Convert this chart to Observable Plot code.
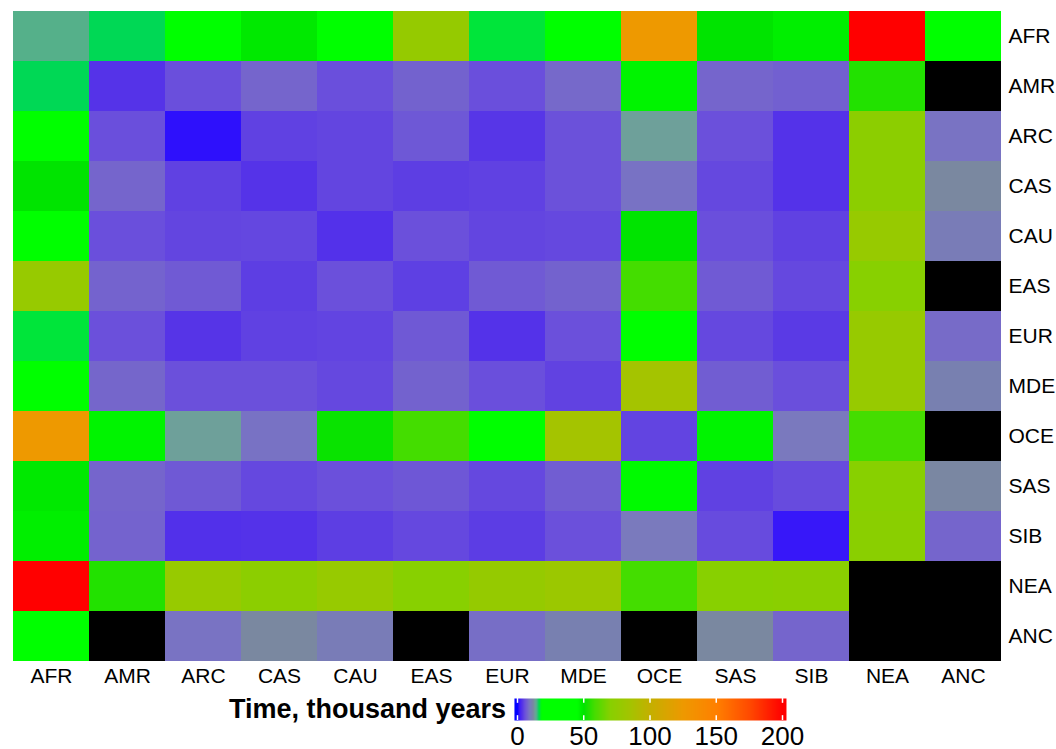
<!DOCTYPE html>
<html>
<head>
<meta charset="utf-8">
<script src="https://cdn.jsdelivr.net/npm/d3@7"></script>
<script src="https://cdn.jsdelivr.net/npm/@observablehq/plot@0.6"></script>
<style>
  html, body { margin: 0; padding: 0; background: #fff; }
  #wrap { position: relative; width: 1056px; height: 749px; font-family: "Liberation Sans", Arial, Helvetica, sans-serif; }
  #legendTitle { position: absolute; left: 0; top: 696px; width: 506px; text-align: right; font-weight: bold; font-size: 27px; line-height: 26px; color: #000; }
  #legend { position: absolute; left: 0; top: 690px; }
  svg { overflow: visible; }
</style>
</head>
<body>
<div id="wrap">
  <div id="chart"></div>
  <div id="legendTitle">Time, thousand years</div>
  <div id="legend"></div>
</div>
<script>
// Populations (both axes, same order)
const populations = ["AFR","AMR","ARC","CAS","CAU","EAS","EUR","MDE","OCE","SAS","SIB","NEA","ANC"];

// Divergence times (thousand years), one array per row; null = no value (black)
const rowAFR = [14.5, 16, 30, 49, 32, 77, 16.8, 28, 125, 50, 48, 200, 35];
const rowAMR = [16, 3.5, 5.5, 7.5, 5.5, 7.2, 5.5, 7.8, 47, 7.5, 7, 54, null];
const rowARC = [30, 5.5, 1, 4.5, 4.8, 6.3, 3.7, 5.7, 13, 5.6, 3.4, 72, 8.6];
const rowCAS = [50, 7.5, 4.5, 3.5, 4.8, 4.3, 4.5, 5.7, 8.5, 5, 3.4, 72, 12];
const rowCAU = [28, 5.5, 4.8, 4.9, 3.3, 5.6, 4.8, 5, 50, 5.5, 4.5, 78, 9.8];
const rowEAS = [78, 7.3, 6.5, 4.3, 5.6, 4.4, 6.5, 7.2, 58, 6.5, 5, 70, null];
const rowEUR = [16.8, 5.6, 3.6, 4.5, 4.7, 6.4, 3.4, 5.6, 30, 5, 4, 78, 8];
const rowMDE = [27, 7.6, 5.6, 5.6, 5, 7.2, 5.5, 4.6, 85, 6.8, 5.5, 78, 10.5];
const rowOCE = [125, 47, 13, 8.5, 51, 58, 30, 85, 4.7, 47, 9.2, 58, null];
const rowSAS = [49, 7.5, 6.4, 5, 5.6, 6.2, 5, 6.8, 46, 4.5, 5.2, 70, 11.8];
const rowSIB = [48, 7.3, 3.2, 3.4, 4.3, 5, 4.2, 5.6, 9.3, 5.2, 1.4, 71, 7.5];
const rowNEA = [200, 54, 78, 72, 78, 70, 77, 80, 58, 70, 71, null, null];
const rowANC = [30, null, 8.6, 12, 9.8, null, 8.2, 10.5, null, 12, 7.5, null, null];

const matrix = [rowAFR, rowAMR, rowARC, rowCAS, rowCAU, rowEAS, rowEUR, rowMDE, rowOCE, rowSAS, rowSIB, rowNEA, rowANC];

// Legend ticks
const legendTicks = [0, 50, 100, 150, 200];

// Colour scale stops
const stopValues = [0, 1, 2, 3.5, 5.5, 7.5, 9, 10.5, 12, 13, 14.5, 16, 17, 18, 45, 50, 58, 70, 85, 100, 125, 150, 175, 200];
const stopColors = ["#0000ff","#2e10fc","#4422f4","#5533e8","#6a4fdc","#7565cc","#7a78c0","#7880b0","#7a88a0","#6ea09a","#55b08a","#00d855","#00e833","#00ff00","#00ff00","#00e400","#44dd00","#88d000","#a4c400","#c4b000","#ee9900","#ff8000","#ff4a00","#ff0000"];

const table = [];
matrix.forEach((row, i) => row.forEach((v, j) => table.push({row: populations[i], col: populations[j], value: v})));

const colorScale = {type: "linear", domain: stopValues, range: stopColors, clamp: true};
const font = "'Liberation Sans', Arial, Helvetica, sans-serif";

const chart = Plot.plot({
  width: 1056,
  height: 690,
  marginTop: 10,
  marginBottom: 29,
  marginLeft: 10,
  marginRight: 53,
  x: {domain: populations, padding: 0, label: null, axis: "bottom", tickSize: 0, tickPadding: 7},
  y: {domain: populations, padding: 0, label: null, axis: "right", tickSize: 0, tickPadding: 5},
  color: colorScale,
  style: {fontFamily: font, fontSize: "21px", color: "#000", background: "#fff"},
  marks: [
    Plot.cell(table.filter(d => d.value == null), {x: "col", y: "row", fill: "black", inset: 0}),
    Plot.cell(table.filter(d => d.value != null), {x: "col", y: "row", fill: "value", inset: 0})
  ]
});
document.getElementById("chart").appendChild(chart);

const legend = Plot.plot({
  width: 1056,
  height: 59,
  marginTop: 8,
  marginBottom: 29,
  marginLeft: 517,
  marginRight: 274,
  x: {domain: [0, 200], label: null, axis: "bottom", ticks: legendTicks, tickSize: 0, tickPadding: 6},
  y: {domain: [0, 1], axis: null},
  color: colorScale,
  style: {fontFamily: font, fontSize: "26px", color: "#000", background: "transparent"},
  marks: [
    Plot.raster({x1: -2.3, x2: 203, y1: 0, y2: 1, fill: (x, y) => x, pixelSize: 1}),
    Plot.ruleX(legendTicks, {x: d => d, y1: 0.78, y2: 1, stroke: "white", strokeWidth: 1.5}),
    Plot.ruleX(legendTicks, {x: d => d, y1: 0, y2: 0.22, stroke: "white", strokeWidth: 1.5})
  ]
});
document.getElementById("legend").appendChild(legend);
</script>
</body>
</html>
